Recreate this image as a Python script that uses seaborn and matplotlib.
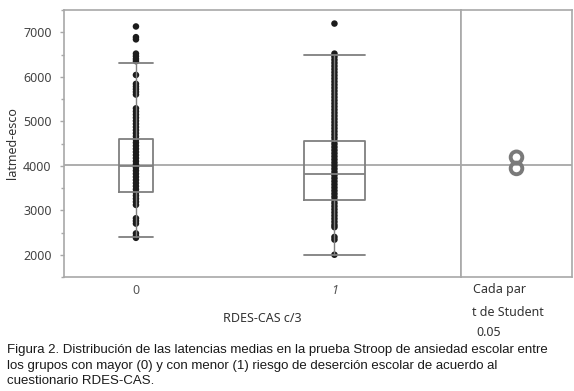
import numpy as np
import pandas as pd
import seaborn as sns
import matplotlib.pyplot as plt

# datos
grupos = ["0", "1"]
n_grupo = [290, 510]          # ancho de cada grupo en JMP ~ tamano de muestra
q1 = [3415, 3220]
mediana = [4000, 3810]
q3 = [4600, 4545]
bigote_inf = [2395, 1995]
bigote_sup = [6300, 6500]
media_global = 4020
medias_par = [4190, 3940]     # circulos de comparacion (t de Student)

lat_0 = [7130, 6890, 6840, 6520, 6460, 6400, 6350, 6040, 5840, 5780, 5720,
         5660, 5600, 5290, 5220, 5150, 5080, 5010, 4940, 4870, 4800, 4730,
         4660, 4590, 4520, 4450, 4380, 4310, 4240, 4170, 4100, 4030, 3960,
         3890, 3820, 3750, 3680, 3610, 3540, 3470, 3400, 3330, 3260, 3190,
         3120, 2820, 2760, 2700, 2480, 2420, 2380]
lat_1 = [7195, 6520, 6450, 6380, 6310, 6240, 6170, 6100, 6030, 5960, 5890,
         5820, 5750, 5680, 5610, 5540, 5470, 5400, 5330, 5260, 5190, 5120,
         5050, 4980, 4910, 4840, 4770, 4700, 4630, 4560, 4490, 4420, 4350,
         4280, 4210, 4140, 4070, 4000, 3930, 3860, 3790, 3720, 3650, 3580,
         3510, 3440, 3370, 3300, 3230, 3160, 3090, 3020, 2950, 2880, 2810,
         2740, 2670, 2620, 2400, 2340, 2000]

sns.set_style("white")
plt.rcParams['font.family'] = ['Noto Sans', 'DejaVu Sans']

limites = np.concatenate([[0], np.cumsum(n_grupo)])
centros = (limites[:-1] + limites[1:]) / 2

df = pd.DataFrame({
    "pos": [centros[0]] * len(lat_0) + [centros[1]] * len(lat_1),
    "latmed": lat_0 + lat_1,
})

fig = plt.figure(figsize=(5.74, 3.91), dpi=100)
ax = fig.add_axes([64 / 574, 1 - 277 / 391, 397 / 574, 267 / 391])
ax2 = fig.add_axes([461 / 574, 1 - 277 / 391, 111 / 574, 267 / 391], sharey=ax)

gris = "#a8a8a8"
gris_caja = "#7f7f7f"

ax.axhline(media_global, color="#a0a0a0", lw=1.2, zorder=1)
sns.scatterplot(data=df, x="pos", y="latmed", ax=ax, color="#1c1c1c",
                s=22, edgecolor="none", zorder=2, legend=False)

stats = []
for i in range(len(grupos)):
    stats.append({"q1": q1[i], "med": mediana[i], "q3": q3[i],
                  "whislo": bigote_inf[i], "whishi": bigote_sup[i],
                  "fliers": []})
anchos = [0.24 * n for n in n_grupo]
ax.bxp(stats, positions=centros, widths=anchos, capwidths=anchos,
       showfliers=False, manage_ticks=False, zorder=3,
       boxprops=dict(color=gris_caja, lw=1.3),
       medianprops=dict(color=gris_caja, lw=1.3),
       whiskerprops=dict(color=gris_caja, lw=1.0),
       capprops=dict(color=gris_caja, lw=1.3))

ax.set_xlim(limites[0], limites[-1])
ax.set_ylim(1500, 7500)
ax.set_yticks([2000, 3000, 4000, 5000, 6000, 7000])
ax.set_yticks(np.arange(1500, 7501, 500), minor=True)
ax.set_xticks(centros, grupos)
ax.set_xticks([limites[1]], minor=True)
ax.get_xticklabels()[1].set_style("italic")
ax.tick_params(axis="x", which="major", length=0, pad=5, labelsize=9,
               labelcolor="#555555")
ax.tick_params(axis="x", which="minor", length=4, color=gris, width=1)
ax.tick_params(axis="y", which="major", left=True, length=3, width=1,
               color=gris, pad=6, labelsize=9, labelcolor="#444444")
ax.tick_params(axis="y", which="minor", left=True, length=2, width=1,
               color=gris)
ax.set_xlabel("RDES-CAS c/3", fontsize=9, color="#333333", labelpad=11)
ax.set_ylabel("latmed-esco", fontsize=9, color="#333333", labelpad=3)

# panel de comparacion
ax2.axhline(media_global, color="#a0a0a0", lw=1.2, zorder=1)
sns.scatterplot(x=[0.5, 0.5], y=medias_par, ax=ax2, marker="o", s=70,
                facecolor="none", edgecolor="#7a7a7a", linewidth=2.8,
                zorder=3, legend=False)
ax2.set_xlim(0, 1)
ax2.set_xticks([])
ax2.tick_params(axis="y", left=False, labelleft=False)
ax2.set_xlabel("")
ax2.set_ylabel("")

for a in (ax, ax2):
    for sp in a.spines.values():
        sp.set_color(gris)
        sp.set_linewidth(1.2)

fig.text(473 / 574, 1 - 290 / 391, "Cada par", fontsize=9, color="#333333",
         va="center")
fig.text(472 / 574, 1 - 312 / 391, "t de Student", fontsize=9,
         color="#333333", va="center")
fig.text(476 / 574, 1 - 333 / 391, "0.05", fontsize=9, color="#333333",
         va="center")

leyenda = ("Figura 2. Distribución de las latencias medias en la prueba Stroop "
           "de ansiedad escolar entre\nlos grupos con mayor (0) y con menor (1) "
           "riesgo de deserción escolar de acuerdo al\ncuestionario RDES-CAS.")
fig.text(7 / 574, 1 - 344 / 391, leyenda, fontsize=9.5,
         family=["Liberation Sans", "DejaVu Sans"], color="#1a1a1a",
         va="top", ha="left", linespacing=1.4)

fig.savefig("out.png", dpi=100)
